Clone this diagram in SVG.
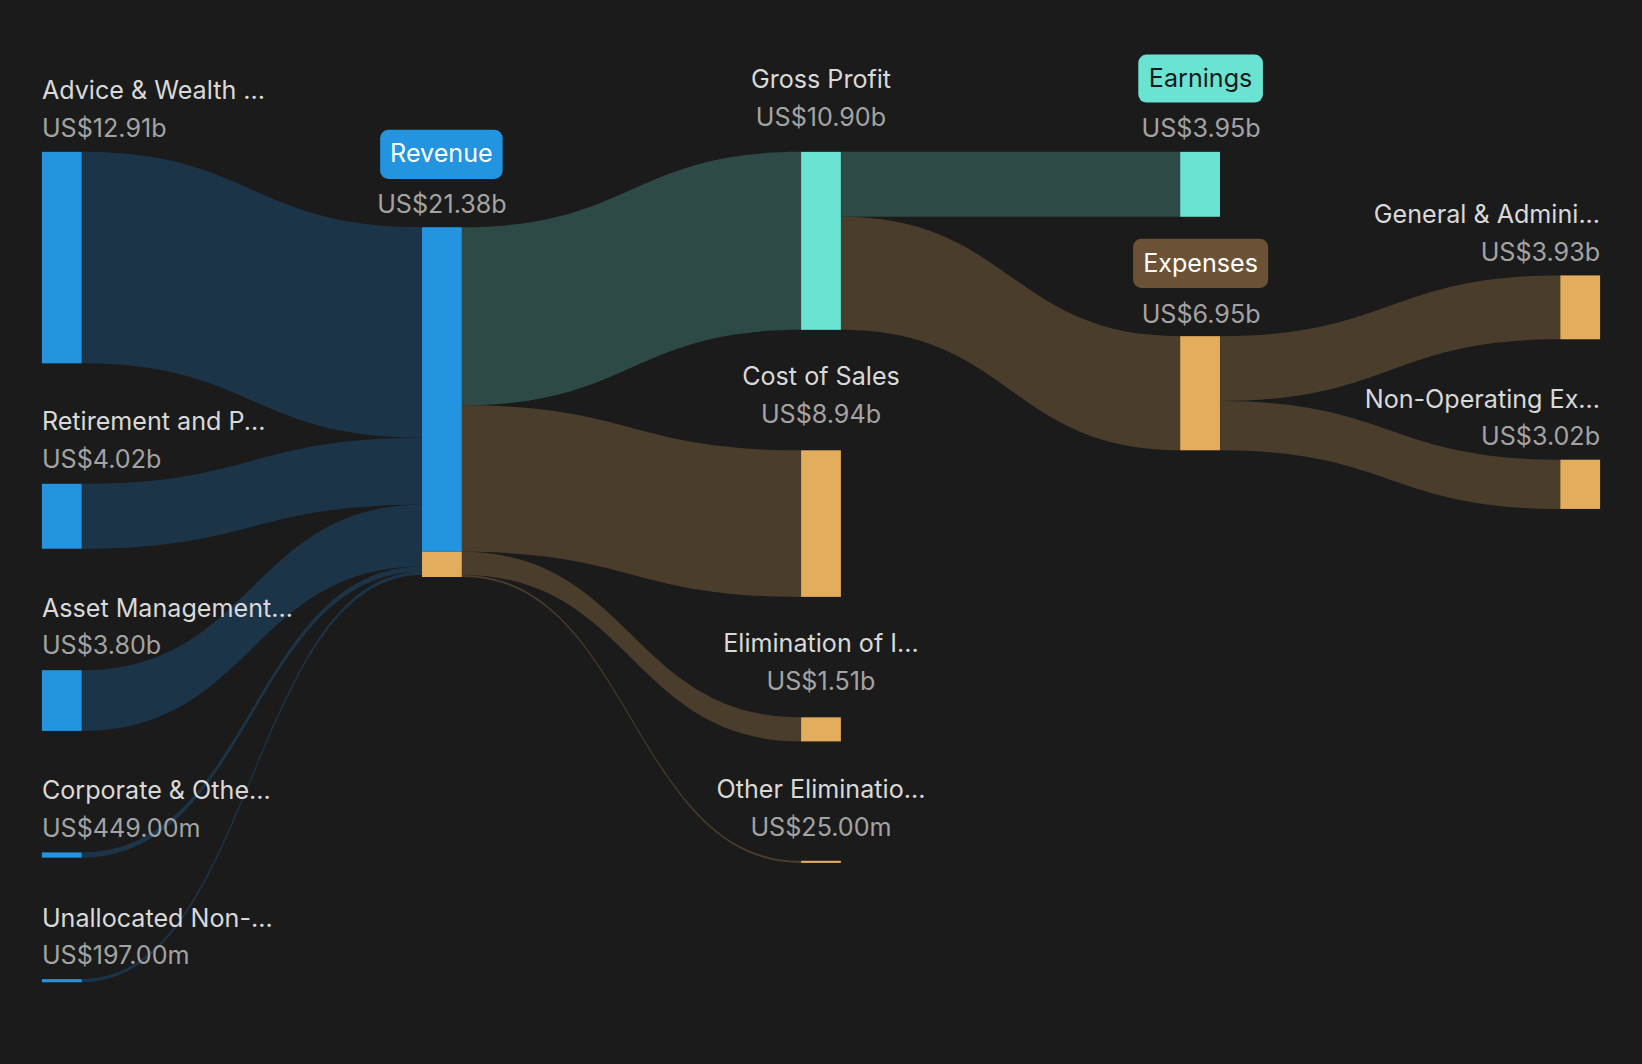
<svg xmlns="http://www.w3.org/2000/svg" width="1642" height="1064" viewBox="0 0 1642 1064">
<style>
.t{font-family:Inter,"Liberation Sans",sans-serif;font-size:24px;fill:#d9d9d9}
.v{font-family:Inter,"Liberation Sans",sans-serif;font-size:24px;fill:#a3a3a3}
.m{text-anchor:middle}.e{text-anchor:end}
.lb{fill:#1c3448}.lt{fill:#2d4a47}.lo{fill:#4a3d2c}
.nb{fill:#2394e0}.nt{fill:#6be3d2}.no{fill:#e3ad5d}
</style>
<rect width="1642" height="1064" fill="#1b1b1b"/>
<g transform="scale(1.04719)">
<g id="connectors">
<path class="lb" d="M78 145 C240.5 145 240.5 217 403 217 L403 418 C240.5 418 240.5 347 78 347Z"/>
<path class="lb" d="M78 462 C240.5 462 240.5 418 403 418 L403 482 C240.5 482 240.5 524 78 524Z"/>
<path class="lb" d="M78 640 C240.5 640 240.5 482 403 482 L403 541 C240.5 541 240.5 698 78 698Z"/>
<path class="lb" d="M78 814 C240.5 814 240.5 541 403 541 L403 546 C240.5 546 240.5 819 78 819Z"/>
<path class="lb" d="M78 935 C240.5 935 240.5 546 403 546 L403 549 C240.5 549 240.5 938 78 938Z"/>
<path class="lt" d="M441 217 C603 217 603 145 765 145 L765 315 C603 315 603 387 441 387Z"/>
<path class="lo" d="M441 387 C603 387 603 430 765 430 L765 570 C603 570 603 527 441 527Z"/>
<path class="lo" d="M441 527 C603 527 603 685 765 685 L765 708 C603 708 603 549 441 549Z"/>
<path class="lo" d="M441 549 C603 549 603 822 765 822 L765 824 C603 824 603 551 441 551Z"/>
<path class="lt" d="M803 145 L1127 145 L1127 207 L803 207Z"/>
<path class="lo" d="M803 207 C965 207 965 321 1127 321 L1127 430 C965 430 965 315 803 315Z"/>
<path class="lo" d="M1165 321 C1327.5 321 1327.5 263 1490 263 L1490 324 C1327.5 324 1327.5 383 1165 383Z"/>
<path class="lo" d="M1165 383 C1327.5 383 1327.5 439 1490 439 L1490 486 C1327.5 486 1327.5 430 1165 430Z"/>
</g>
<g id="advice"><rect class="nb" x="40" y="145" width="38" height="202"/><text class="t" x="40" y="95">Advice &amp; Wealth ...</text><text class="v" x="40" y="131">US$12.91b</text></g>
<g id="retirement"><rect class="nb" x="40" y="462" width="38" height="62"/><text class="t" x="40" y="411">Retirement and P...</text><text class="v" x="40" y="447">US$4.02b</text></g>
<g id="asset"><rect class="nb" x="40" y="640" width="38" height="58"/><text class="t" x="40" y="589">Asset Management...</text><text class="v" x="40" y="625">US$3.80b</text></g>
<g id="corporate"><rect class="nb" x="40" y="814" width="38" height="5"/><text class="t" x="40" y="763">Corporate &amp; Othe...</text><text class="v" x="40" y="799">US$449.00m</text></g>
<g id="unallocated"><rect class="nb" x="40" y="935" width="38" height="3"/><text class="t" x="40" y="885">Unallocated Non-...</text><text class="v" x="40" y="921">US$197.00m</text></g>
<g id="revenue"><rect class="nb" x="403" y="217" width="38" height="310"/><rect class="no" x="403" y="527" width="38" height="24"/><rect class="nb" x="363" y="124" width="117" height="47" rx="8"/><text class="t m" x="421.5" y="155" style="fill:#fff">Revenue</text><text class="v m" x="422" y="203">US$21.38b</text></g>
<g id="grossprofit"><rect class="nt" x="765" y="145" width="38" height="170"/><text class="t m" x="784" y="84">Gross Profit</text><text class="v m" x="784" y="120">US$10.90b</text></g>
<g id="costofsales"><rect class="no" x="765" y="430" width="38" height="140"/><text class="t m" x="784" y="368">Cost of Sales</text><text class="v m" x="784" y="404">US$8.94b</text></g>
<g id="elimination"><rect class="no" x="765" y="685" width="38" height="23"/><text class="t m" x="784" y="623">Elimination of I...</text><text class="v m" x="784" y="659">US$1.51b</text></g>
<g id="otherelim"><rect class="no" x="765" y="822" width="38" height="2"/><text class="t m" x="784" y="762">Other Eliminatio...</text><text class="v m" x="784" y="798">US$25.00m</text></g>
<g id="earnings"><rect class="nt" x="1127" y="145" width="38" height="62"/><rect class="nt" x="1087" y="52" width="119" height="46" rx="8"/><text class="t m" x="1146.5" y="83" style="fill:#1b1b1b">Earnings</text><text class="v m" x="1147" y="131">US$3.95b</text></g>
<g id="expenses"><rect class="no" x="1127" y="321" width="38" height="109"/><rect x="1082" y="228" width="129" height="47" rx="8" fill="#6b5236"/><text class="t m" x="1146.5" y="260" style="fill:#fff">Expenses</text><text class="v m" x="1147" y="308">US$6.95b</text></g>
<g id="ga"><rect class="no" x="1490" y="263" width="38" height="61"/><text class="t e" x="1528" y="213">General &amp; Admini...</text><text class="v e" x="1528" y="249">US$3.93b</text></g>
<g id="nonop"><rect class="no" x="1490" y="439" width="38" height="47"/><text class="t e" x="1528" y="390">Non-Operating Ex...</text><text class="v e" x="1528" y="425">US$3.02b</text></g>
</g>
</svg>
